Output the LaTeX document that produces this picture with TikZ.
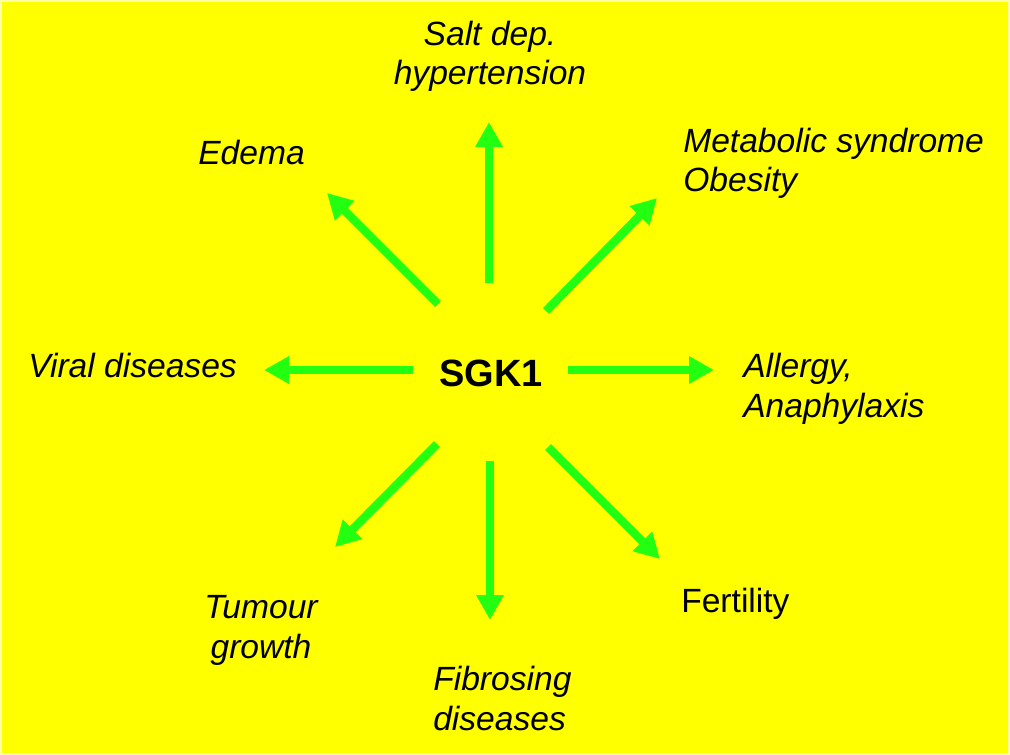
\documentclass[tikz,border=0pt]{standalone}
\usepackage{fontspec}
\setmainfont{Liberation Sans}
\usetikzlibrary{arrows.meta}
\definecolor{bgyellow}{RGB}{255,255,0}
\definecolor{arrgreen}{RGB}{34,255,17}
\begin{document}
\begin{tikzpicture}[x=0.75pt,y=-0.75pt,
  lbl/.style={font=\fontsize{25.2}{29.5}\selectfont\itshape, inner sep=0pt, align=left},
  arr/.style={draw=arrgreen, line width=6.3pt, -{Triangle[length=18.75pt,width=19.5pt]}}]
\fill[bgyellow!35] (0,0) rectangle (1010,755);
\fill[bgyellow] (2,2) rectangle (1008,753);
\useasboundingbox (0,0) rectangle (1010,755);
% centre
\node[font=\fontsize{28.5}{34}\selectfont\bfseries, inner sep=0pt] (sgk) at (491,373) {SGK1};
% labels (anchor base = baseline of last line)
\node[lbl, align=center, anchor=base] (salt) at (490,85) {Salt dep.\\hypertension};
\node[lbl, anchor=base west] (edema) at (198,165) {Edema};
\node[lbl, anchor=base west] (meta) at (683,192) {Metabolic syndrome\\Obesity};
\node[lbl, anchor=base west] (viral) at (28,378) {Viral diseases};
\node[lbl, anchor=base west] (allergy) at (743,417) {Allergy,\\Anaphylaxis};
\node[lbl, align=center, anchor=base] (tumour) at (261,658) {Tumour\\growth};
\node[lbl, anchor=base west] (fib) at (433,730) {Fibrosing\\diseases};
\node[font=\fontsize{25.2}{29.5}\selectfont, inner sep=0pt, anchor=base west] (fert) at (681,612) {Fertility};
% arrow ends
\coordinate (r0) at (568,370); \coordinate (r1) at (714,370);
\coordinate (l0) at (413,370); \coordinate (l1) at (264,370);
\coordinate (u0) at (489,283); \coordinate (u1) at (489,122);
\coordinate (d0) at (490,461); \coordinate (d1) at (490,620);
\coordinate (ul0) at (438,304); \coordinate (ul1) at (327,193);
\coordinate (ur0) at (546,311); \coordinate (ur1) at (657,198);
\coordinate (dl0) at (437,444); \coordinate (dl1) at (335,547);
\coordinate (dr0) at (548,447); \coordinate (dr1) at (660,559);
\draw[arr] (r0) -- (r1);
\draw[arr] (l0) -- (l1);
\draw[arr] (u0) -- (u1);
\draw[arr] (d0) -- (d1);
\draw[arr] (ul0) -- (ul1);
\draw[arr] (ur0) -- (ur1);
\draw[arr] (dl0) -- (dl1);
\draw[arr] (dr0) -- (dr1);
\end{tikzpicture}
\end{document}
